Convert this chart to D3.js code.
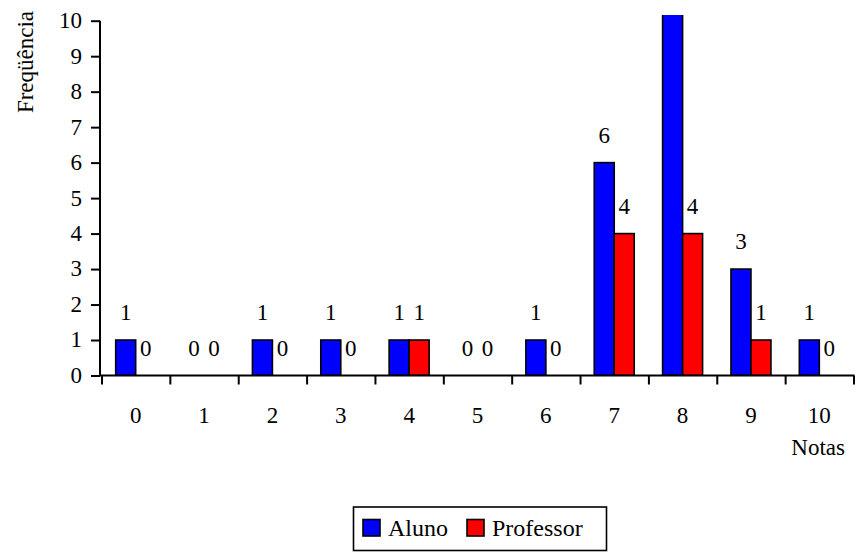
<!DOCTYPE html>
<html>
<head>
<meta charset="utf-8">
<script src="https://cdn.jsdelivr.net/npm/d3@7"></script>
</head>
<body style="margin:0; background:#fff">
<svg id="chart" width="855" height="552" style="display:block"></svg>
<script>
// Distribuição das notas: alunos x professores
const notas = ["0", "1", "2", "3", "4", "5", "6", "7", "8", "9", "10"];
const series = ["Aluno", "Professor"];
const aluno = [1, 0, 1, 1, 1, 0, 1, 6, 12, 3, 1];
const professor = [0, 0, 0, 0, 1, 0, 0, 4, 4, 1, 0];
const yTicks = [0, 1, 2, 3, 4, 5, 6, 7, 8, 9, 10];
const colors = ["#0000ff", "#ff0000"];

const svg = d3.select("#chart");
const FS = 23;
const styleText = sel => sel.style("font-family", '"Liberation Serif"').attr("font-size", FS).attr("fill", "#000");

const plotLeft = 100, plotRight = 853.5, plotTop = 20.7, plotBottom = 375.5;

const x = d3.scaleBand().domain(notas).range([plotLeft + 1.5, plotRight]).paddingInner(0).paddingOuter(0);
const xEdges = d3.scaleLinear().domain([0, notas.length]).range([plotLeft + 1.5, plotRight]);
const xSub = d3.scaleBand().domain(series).range([0, x.bandwidth()]).paddingInner(0).paddingOuter(0.71);
const y = d3.scaleLinear().domain([0, 10]).range([plotBottom, plotTop]);

const rows = notas.map((n, i) => ({ nota: n, values: [aluno[i], professor[i]] }));

// plot clip: bars taller than the axis are cut a little above the top tick
svg.append("defs").append("clipPath").attr("id", "plot")
  .append("rect").attr("x", plotLeft).attr("y", 15).attr("width", plotRight - plotLeft + 2).attr("height", plotBottom - 15);

const bars = svg.append("g").attr("clip-path", "url(#plot)");
rows.forEach(r => {
  const g = bars.append("g").attr("transform", `translate(${x(r.nota)},0)`);
  g.selectAll("rect")
    .data(series.map((s, k) => ({ s, k, v: r.values[k] })).filter(d => d.v > 0))
    .join("rect")
    .attr("x", d => xSub(d.s))
    .attr("y", d => y(d.v))
    .attr("width", xSub.bandwidth())
    .attr("height", d => y(0) - y(d.v))
    .attr("fill", d => colors[d.k])
    .attr("stroke", "#000")
    .attr("stroke-width", 1.6);
});

// value labels above each bar
const labels = svg.append("g").attr("text-anchor", "middle");
rows.forEach(r => {
  series.forEach((s, k) => {
    const v = r.values[k];
    if (v > 10) return;
    labels.append("text")
      .attr("x", x(r.nota) + xSub(s) + xSub.bandwidth() / 2)
      .attr("y", y(v) - 20)
      .call(styleText)
      .text(v);
  });
});

// y axis
const yAxis = svg.append("g").attr("transform", `translate(${plotLeft},0)`)
  .call(d3.axisLeft(y).tickValues(yTicks).tickFormat(d3.format("d")).tickSize(9).tickPadding(9))
  .attr("font-family", null).attr("font-size", null);
yAxis.selectAll("text").call(styleText).attr("dy", "0.3em");
yAxis.selectAll("line, path").attr("stroke", "#000").attr("stroke-width", 2);
yAxis.select(".domain").attr("d", `M0,${plotTop}V${plotBottom}`);

// x axis: boundary ticks
const xAxis = svg.append("g").attr("transform", `translate(0,${plotBottom})`)
  .call(d3.axisBottom(xEdges).tickValues(d3.range(notas.length + 1)).tickFormat("").tickSize(9))
  .attr("font-family", null).attr("font-size", null);
xAxis.selectAll("text").remove();
xAxis.selectAll("line, path").attr("stroke", "#000").attr("stroke-width", 2);
xAxis.select(".domain").attr("d", `M${plotLeft},0H${plotRight + 1}`);

// x axis: category labels
const xLab = svg.append("g").attr("transform", `translate(0,${plotBottom})`)
  .call(d3.axisBottom(x).tickSize(0).tickPadding(31))
  .attr("font-family", null).attr("font-size", null);
xLab.select(".domain").remove();
xLab.selectAll("text").call(styleText);

// axis titles
svg.append("text").attr("x", 845).attr("y", 455).attr("text-anchor", "end")
  .call(styleText).text("Notas");
svg.append("text").attr("transform", "translate(33,62) rotate(-90)").attr("text-anchor", "middle")
  .call(styleText).text("Freqüência");

// legend
const legend = svg.append("g");
legend.append("rect").attr("x", 353.5).attr("y", 507).attr("width", 253).attr("height", 43.5)
  .attr("fill", "#fff").attr("stroke", "#000").attr("stroke-width", 1.6);
const legendX = [363, 467];
series.forEach((s, k) => {
  legend.append("rect").attr("x", legendX[k]).attr("y", 519.5).attr("width", 17).attr("height", 16.5)
    .attr("fill", colors[k]).attr("stroke", "#000").attr("stroke-width", 1.6);
  legend.append("text").attr("x", legendX[k] + 25).attr("y", 536)
    .call(styleText).attr("font-size", 24).text(s);
});
</script>
</body>
</html>
